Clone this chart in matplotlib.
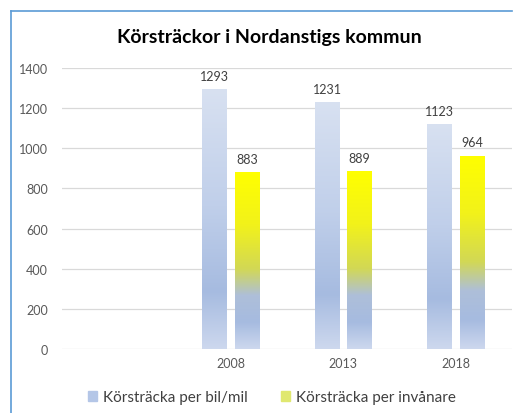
import matplotlib.pyplot as plt
import numpy as np
from matplotlib.colors import LinearSegmentedColormap
from matplotlib.lines import Line2D

plt.rcParams['font.family'] = ['Lato', 'DejaVu Sans']

# data
categories = ['', '2008', '2013', '2018']
bil_mil = [None, 1293, 1231, 1123]
invanare = [None, 883, 889, 964]
series_names = ['Körsträcka per bil/mil', 'Körsträcka per invånare']

# gradients (top -> bottom)
blue_cmap = LinearSegmentedColormap.from_list('blue', [
    (0.0, '#d8e1f1'), (0.45, '#c0cfea'), (0.78, '#a6bbe0'), (1.0, '#cdd8ee')])
yellow_cmap = LinearSegmentedColormap.from_list('yellow', [
    (0.0, '#ffff00'), (0.3, '#f2f21a'), (0.55, '#d2d855'), (0.7, '#aebfd9'),
    (0.85, '#a6bbe0'), (1.0, '#cdd8ee')])

fig = plt.figure(figsize=(5.23, 4.14), dpi=100)
ax = fig.add_axes([0.1185, 0.1546, 0.8605, 0.6787])

x = np.arange(len(categories))
w = 0.218
off = 0.143
grad = np.linspace(0, 1, 256).reshape(-1, 1)

for vals, sign, cmap in [(bil_mil, -1, blue_cmap), (invanare, 1, yellow_cmap)]:
    for xi, v in zip(x, vals):
        if v is None:
            continue
        b = ax.bar(xi + sign * off, v, width=w, color='none', edgecolor='none')[0]
        x0, y0 = b.get_x(), b.get_y()
        im = ax.imshow(grad, cmap=cmap, aspect='auto', origin='upper',
                       extent=[x0, x0 + b.get_width(), y0, y0 + b.get_height()], zorder=2)
        im.set_clip_path(b)
        ax.text(xi + sign * off, v + 35, str(v), ha='center', va='bottom',
                fontsize=9, color='#404040')

ax.set_xlim(-0.5, len(categories) - 0.5)
ax.set_ylim(0, 1400)
ax.set_yticks(range(0, 1401, 200))
ax.set_xticks(x)
ax.set_xticklabels(categories)
ax.tick_params(length=0, labelsize=9, labelcolor='#595959', pad=6)
ax.tick_params(axis='y', pad=10)
ax.grid(axis='y', color='#d9d9d9', linewidth=0.9, zorder=0)
ax.set_axisbelow(True)
for s in ax.spines.values():
    s.set_visible(False)

fig.text(0.515, 0.909, 'Körsträckor i Nordanstigs kommun', ha='center', va='center',
         fontsize=14, fontweight='bold', color='black')

handles = [plt.Rectangle((0, 0), 1, 1, color='#b4c6e7'),
           plt.Rectangle((0, 0), 1, 1, color='#e0e870')]
fig.legend(handles, series_names, loc='center', bbox_to_anchor=(0.52, 0.038), ncol=2,
           frameon=False, fontsize=11, labelcolor='#404040', handlelength=0.6,
           handleheight=0.6, handletextpad=0.4, columnspacing=2.2)

# frame lines at left and top
fig.add_artist(Line2D([11 / 523, 11 / 523], [0, 1 - 12 / 414], color='#5b9bd5', lw=1.2))
fig.add_artist(Line2D([11 / 523, 512 / 523], [1 - 12 / 414, 1 - 12 / 414], color='#5b9bd5', lw=1.2))

fig.savefig('out.png', dpi=100, facecolor='white')
